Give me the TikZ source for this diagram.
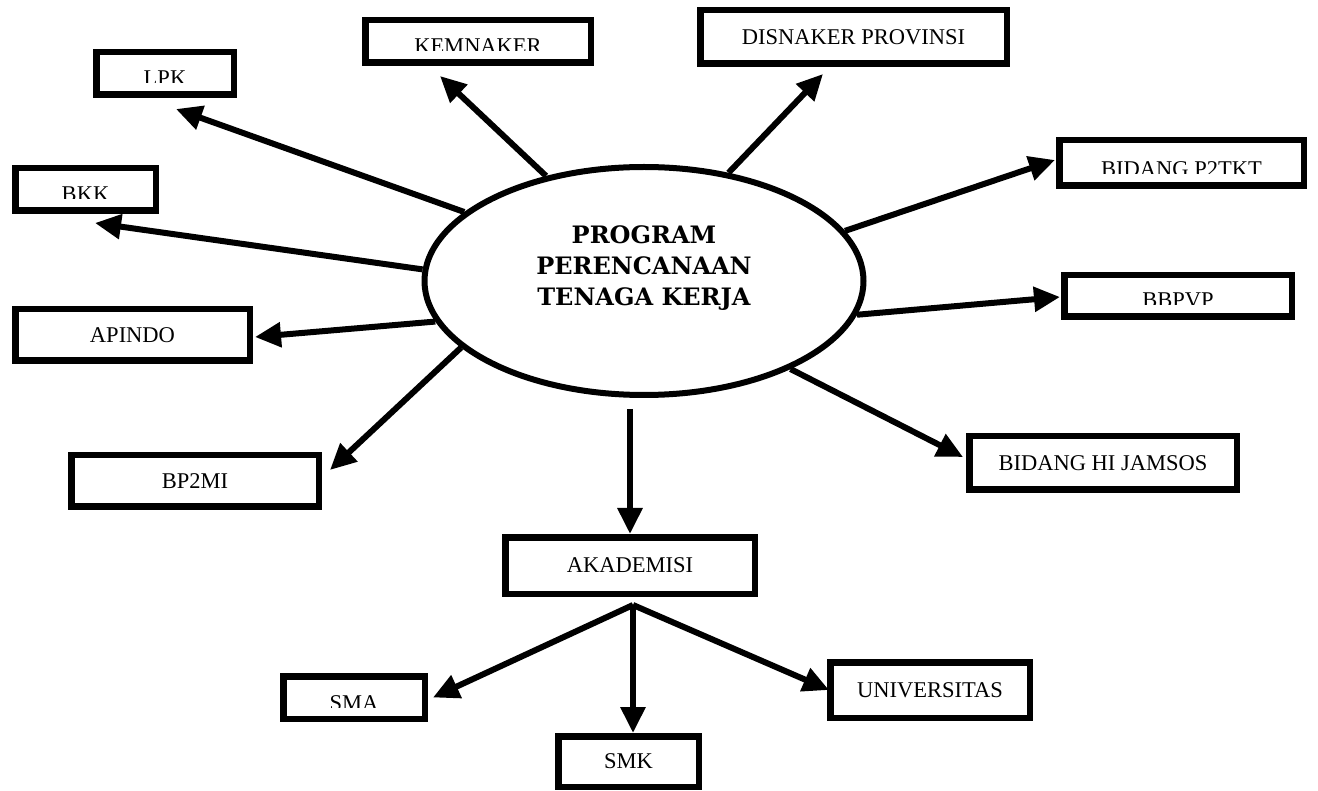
\documentclass[tikz,border=0pt]{standalone}
\usepackage{fontspec}
\setmainfont{Liberation Serif}
\newfontfamily\ellfont{DejaVu Serif}
\usetikzlibrary{shapes.geometric,arrows.meta,calc}
\newcommand{\cliplabel}[2]{%
  \begin{scope}
    \clip (#1.north west) rectangle ($(#1.south east)+(0,-15)$);
    \node[lbl] (#1-t) at ($(#1.south)+(0,-12)$) {#2};
  \end{scope}}
\begin{document}
\begin{tikzpicture}[x=1pt,y=-1pt,
  box/.style={draw=black,line width=6.5pt,fill=white,inner sep=0pt,
    font=\fontsize{22.5}{27}\selectfont,text height=14.9pt,text depth=0pt},
  lbl/.style={inner sep=0pt,font=\fontsize{22.5}{27}\selectfont,anchor=base},
  arr/.style={line width=6pt,-{Triangle[length=26pt,width=24pt]}},
]
\useasboundingbox (0,0) rectangle (1318,791);
\node[draw,ellipse,line width=6pt,minimum width=439pt,minimum height=228pt,inner sep=0pt] (ell) at (644,281) {};
\node[align=center,inner sep=0pt,font=\ellfont\bfseries\fontsize{24}{31}\selectfont] (elltxt) at (644,268) {PROGRAM\\PERENCANAAN\\TENAGA KERJA};

\node[box,minimum width=137.5pt,minimum height=42.5pt] (lpk) at (165,73.5) {};
\node[box,minimum width=140.5pt,minimum height=42.5pt] (bkk) at (85.5,189.5) {};
\node[box,minimum width=225.5pt,minimum height=42.5pt] (kem) at (478,41.5) {};
\node[box,minimum width=306.5pt,minimum height=53.5pt] (dis) at (853.5,37) {DISNAKER PROVINSI};
\node[box,minimum width=244.5pt,minimum height=45.5pt] (p2tkt) at (1181.5,163) {};
\node[box,minimum width=227.5pt,minimum height=41.5pt] (bbpvp) at (1178,296) {};
\node[box,minimum width=234.5pt,minimum height=51.5pt] (apindo) at (132.5,335) {APINDO};
\node[box,minimum width=247.5pt,minimum height=51.5pt] (bp2mi) at (195,481) {BP2MI};
\node[box,minimum width=267.5pt,minimum height=53.5pt] (hij) at (1103,463) {BIDANG HI JAMSOS};
\node[box,minimum width=249.5pt,minimum height=56.5pt] (akad) at (630,565.5) {AKADEMISI};
\node[box,minimum width=141.5pt,minimum height=42.5pt] (sma) at (354,697.5) {};
\node[box,minimum width=140.5pt,minimum height=50.5pt] (smk) at (628.5,761.5) {SMK};
\node[box,minimum width=199.5pt,minimum height=55.5pt] (univ) at (930,690) {UNIVERSITAS};

\cliplabel{lpk}{LPK}
\cliplabel{bkk}{BKK}
\cliplabel{kem}{KEMNAKER}
\cliplabel{p2tkt}{BIDANG P2TKT}
\cliplabel{bbpvp}{BBPVP}
\cliplabel{sma}{SMA}

\draw[arr] (ell.159.5) -- ($(lpk.south)+(11,11)$);
\draw[arr] (ell.133) -- ($(kem.south)+(-38,10)$);
\draw[arr] (ell.52) -- ($(dis.south)+(-30.5,7)$);
\draw[arr] (ell.14) -- ($(p2tkt.west)+(-1,-3)$);
\draw[arr] (ell.351.4) -- ($(bbpvp.west)+(-1,1)$);
\draw[arr] (ell.177.7) -- ($(bkk.south)+(9.5,9)$);
\draw[arr] (ell.191.5) -- ($(apindo.east)+(2,2)$);
\draw[arr] (ell.200.3) -- ($(bp2mi.east)+(8,-11)$);
\draw[arr] (ell.329.7) -- ($(hij.west)+(-3,-6)$);
\draw[arr] ($(ell.south -| akad.north)+(0,11)$) -- (akad.north);
\coordinate (fork) at ($(akad.south)+(3,8)$);
\draw[arr] (fork) -- ($(sma.east)+(5,0)$);
\draw[arr] (fork) -- (fork |- smk.north);
\draw[arr] (fork) -- ($(univ.west)+(2,0)$);
\end{tikzpicture}
\end{document}
